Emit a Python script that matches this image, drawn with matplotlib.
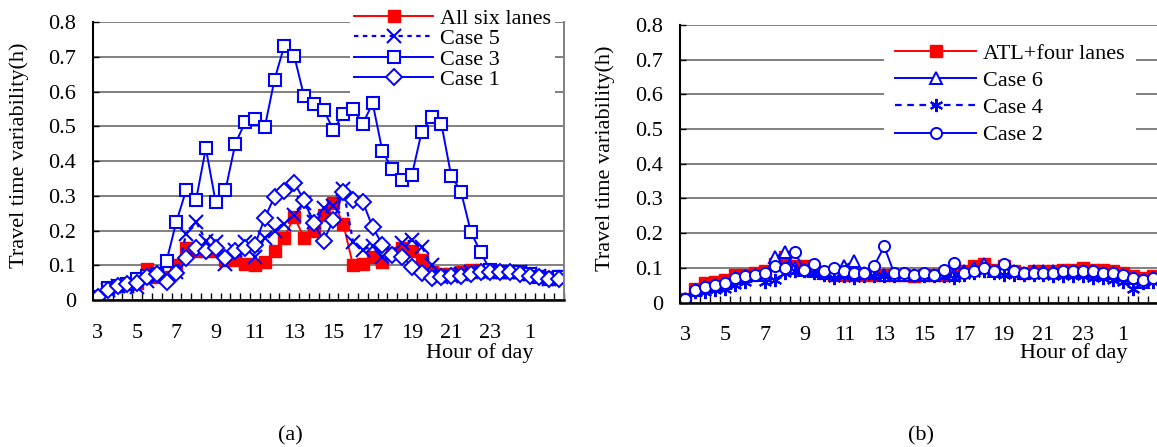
import matplotlib
matplotlib.use("Agg")
import matplotlib.pyplot as plt

plt.rcParams['font.family'] = ['Liberation Serif', 'DejaVu Serif']

# Categorias: medias horas desde las 3:00 hasta las 2:30 del dia siguiente
etiquetas_hora = ['3', '5', '7', '9', '11', '13', '15', '17', '19', '21', '23', '1']
n_puntos = 48

# Panel (a)
all_six = [0.01, 0.035, 0.04, 0.045, 0.05, 0.09, 0.065, 0.065, 0.10, 0.15,
           0.14, 0.14, 0.14, 0.115, 0.115, 0.105, 0.10, 0.11, 0.14, 0.18,
           0.24, 0.18, 0.20, 0.245, 0.28, 0.22, 0.10, 0.105, 0.125, 0.11,
           0.135, 0.15, 0.14, 0.115, 0.082, 0.075, 0.075, 0.08, 0.085, 0.085,
           0.085, 0.08, 0.08, 0.08, 0.075, 0.07, 0.065, 0.07]
case5 = [0.01, 0.03, 0.04, 0.04, 0.037, 0.055, 0.07, 0.07, 0.08, 0.19,
         0.226, 0.17, 0.168, 0.105, 0.145, 0.168, 0.125, 0.18, 0.20, 0.22,
         0.245, 0.28, 0.226, 0.264, 0.27, 0.32, 0.168, 0.145, 0.155, 0.125,
         0.135, 0.164, 0.173, 0.154, 0.10, 0.067, 0.07, 0.075, 0.08, 0.08,
         0.08, 0.08, 0.08, 0.08, 0.075, 0.07, 0.06, 0.06]
case3 = [0.01, 0.035, 0.04, 0.045, 0.06, 0.07, 0.075, 0.113, 0.226, 0.317,
         0.288, 0.4375, 0.282, 0.317, 0.45, 0.512, 0.521, 0.497, 0.635, 0.733,
         0.704, 0.588, 0.566, 0.548, 0.49, 0.536, 0.55, 0.508, 0.567, 0.428,
         0.377, 0.346, 0.36, 0.485, 0.526, 0.508, 0.358, 0.3125, 0.197, 0.1375,
         0.085, 0.08, 0.08, 0.08, 0.075, 0.065, 0.06, 0.065]
case1 = [0.01, 0.03, 0.04, 0.045, 0.05, 0.065, 0.075, 0.053, 0.077, 0.12,
         0.149, 0.14, 0.149, 0.12, 0.14, 0.149, 0.159, 0.236, 0.298, 0.315,
         0.338, 0.288, 0.221, 0.171, 0.23, 0.31, 0.288, 0.282, 0.21, 0.159,
         0.13, 0.125, 0.096, 0.077, 0.0625, 0.065, 0.068, 0.07, 0.075, 0.08,
         0.08, 0.08, 0.08, 0.075, 0.07, 0.065, 0.06, 0.06]

# Panel (b)
atl_four = [0.01, 0.04, 0.055, 0.06, 0.065, 0.08, 0.08, 0.085, 0.09, 0.11,
            0.13, 0.105, 0.105, 0.095, 0.085, 0.08, 0.08, 0.08, 0.08, 0.08,
            0.08, 0.08, 0.08, 0.075, 0.08, 0.08, 0.08, 0.085, 0.09, 0.105,
            0.11, 0.095, 0.105, 0.09, 0.085, 0.09, 0.09, 0.09, 0.095, 0.095,
            0.10, 0.095, 0.095, 0.09, 0.085, 0.075, 0.07, 0.075]
case6 = [0.01, 0.035, 0.045, 0.05, 0.055, 0.07, 0.075, 0.08, 0.08, 0.13,
         0.145, 0.10, 0.095, 0.09, 0.085, 0.09, 0.105, 0.12, 0.085, 0.085,
         0.08, 0.08, 0.08, 0.08, 0.08, 0.08, 0.085, 0.08, 0.09, 0.10,
         0.11, 0.09, 0.10, 0.09, 0.085, 0.09, 0.09, 0.09, 0.09, 0.09,
         0.09, 0.09, 0.085, 0.085, 0.08, 0.07, 0.06, 0.07]
case4 = [0.01, 0.03, 0.03, 0.035, 0.04, 0.05, 0.06, 0.08, 0.06, 0.065,
         0.085, 0.09, 0.09, 0.085, 0.08, 0.07, 0.075, 0.07, 0.075, 0.075,
         0.075, 0.075, 0.08, 0.075, 0.075, 0.075, 0.075, 0.07, 0.08, 0.085,
         0.09, 0.085, 0.08, 0.08, 0.08, 0.08, 0.08, 0.075, 0.075, 0.075,
         0.075, 0.07, 0.07, 0.065, 0.06, 0.04, 0.055, 0.06]
case2 = [0.01, 0.035, 0.045, 0.05, 0.055, 0.07, 0.075, 0.08, 0.085, 0.105,
         0.10, 0.145, 0.095, 0.11, 0.09, 0.10, 0.09, 0.085, 0.085, 0.105,
         0.162, 0.085, 0.085, 0.08, 0.085, 0.08, 0.095, 0.115, 0.085, 0.09,
         0.10, 0.09, 0.11, 0.09, 0.085, 0.085, 0.085, 0.085, 0.09, 0.09,
         0.09, 0.09, 0.085, 0.085, 0.08, 0.07, 0.065, 0.07]

x = list(range(n_puntos))
W, H = 1157, 447
ROJO = '#ff0000'
AZUL = '#0000ff'
FS = 16

fig = plt.figure(figsize=(W / 100, H / 100), dpi=100)
ax_a = fig.add_axes([93 / W, (H - 300) / H, (564 - 93) / W, (300 - 22.3) / H])
ax_b = fig.add_axes([680 / W, (H - 302.5) / H, (1158 - 680) / W, (302.5 - 25) / H])


def preparar(ax, ylab_x, right_spine=True):
    ax.set_xlim(-0.5, n_puntos - 0.5)
    ax.set_ylim(0, 0.8)
    ax.set_yticks([i / 10 for i in range(9)])
    ax.set_yticklabels(['0'] + ['0.%d' % i for i in range(1, 9)], fontsize=FS)
    ax.yaxis.grid(True, color='#808080', linewidth=1.4)
    ax.set_axisbelow(True)
    # marcas entre categorias, etiquetas cada dos horas
    ax.set_xticks([i - 0.5 for i in range(n_puntos + 1)])
    ax.set_xticklabels([])
    ax.set_xticks(list(range(0, n_puntos, 4)), etiquetas_hora, minor=True)
    ax.tick_params(axis='x', which='major', direction='in', length=5, width=1)
    ax.tick_params(axis='x', which='minor', length=0, pad=17, labelsize=FS)
    ax.tick_params(axis='y', direction='in', length=4, width=1, pad=12)
    ax.spines['top'].set_visible(False)
    ax.spines['left'].set_linewidth(1.5)
    ax.spines['bottom'].set_linewidth(1.8)
    if right_spine:
        ax.spines['right'].set_color('#808080')
        ax.spines['right'].set_linewidth(1.4)
    else:
        ax.spines['right'].set_visible(False)
    ax.set_ylabel('Travel time variability(h)', fontsize=FS)
    ax.yaxis.set_label_coords(ylab_x, 0.52)


preparar(ax_a, (29 - 93) / 471)
preparar(ax_b, (615 - 680) / 478, right_spine=False)

# (a)
ax_a.plot(x, all_six, color=ROJO, lw=1.4, marker='s', ms=9, mfc=ROJO, mec=ROJO,
          label='All six lanes')
ax_a.plot(x, case5, color=AZUL, lw=1.6, ls=(0, (2, 2)), marker='x', ms=10, mew=1.5,
          label='Case 5')
ax_a.plot(x, case3, color=AZUL, lw=1.4, marker='s', ms=9, mfc='white', mew=1.5,
          label='Case 3')
ax_a.plot(x, case1, color=AZUL, lw=1.4, marker='D', ms=8, mfc='white', mew=1.4,
          label='Case 1')

# (b)
ax_b.plot(x, atl_four, color=ROJO, lw=1.4, marker='s', ms=9, mfc=ROJO, mec=ROJO,
          label='ATL+four lanes')
ax_b.plot(x, case6, color=AZUL, lw=1.4, marker='^', ms=8.5, mfc='white', mew=1.4,
          label='Case 6')
ax_b.plot(x, case4, color=AZUL, lw=1.6, ls=(0, (3, 2.5)), marker=(6, 2, 0), ms=9.5,
          mew=1.5, label='Case 4')
ax_b.plot(x, case2, color=AZUL, lw=1.4, marker='o', ms=8, mfc='white', mew=1.4,
          label='Case 2')

leg_a = ax_a.legend(loc='upper left', bbox_to_anchor=(349.6 / W, 1 - 3.6 / H),
                    bbox_transform=fig.transFigure, fontsize=FS, frameon=True,
                    facecolor='white', edgecolor='none', framealpha=1, fancybox=False,
                    handlelength=3.56, handletextpad=0.3, labelspacing=0.0,
                    borderpad=0.2, borderaxespad=0)
leg_b = ax_b.legend(loc='upper left', bbox_to_anchor=(884 / W, 1 - 32 / H),
                    bbox_transform=fig.transFigure, fontsize=FS, frameon=True,
                    facecolor='white', edgecolor='none', framealpha=1, fancybox=False,
                    handlelength=3.65, handletextpad=0.3, labelspacing=0.3,
                    borderpad=0.5, borderaxespad=0)
leg_a.set_zorder(5)
leg_b.set_zorder(5)

fig.text(534 / W, 1 - 353 / H, 'Hour of day', ha='right', va='center', fontsize=FS)
fig.text(1127 / W, 1 - 353 / H, 'Hour of day', ha='right', va='center', fontsize=FS)
fig.text(290 / W, 1 - 436 / H, '(a)', ha='center', va='center', fontsize=FS)
fig.text(921 / W, 1 - 436 / H, '(b)', ha='center', va='center', fontsize=FS)

fig.savefig('out.png', dpi=100)
